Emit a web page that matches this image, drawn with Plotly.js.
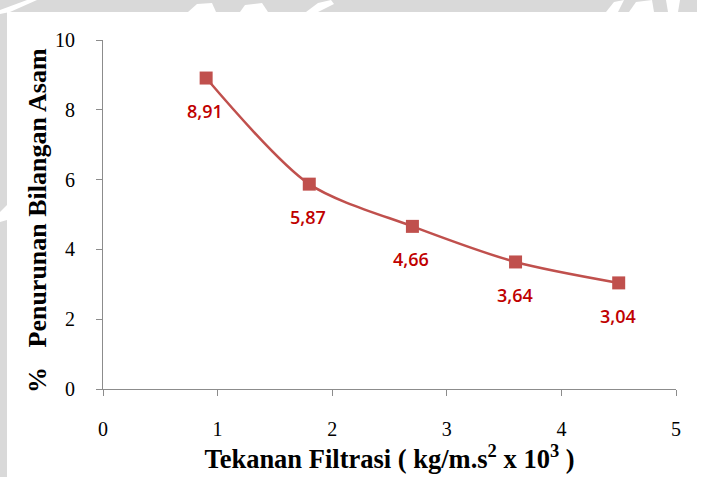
<!DOCTYPE html>
<html>
<head>
<meta charset="utf-8">
<script src="https://cdn.plot.ly/plotly-3.0.1.min.js"></script>
<style>
  html, body { margin: 0; padding: 0; background: #ffffff; overflow: hidden; }
  #chart { width: 706px; height: 477px; display: block; }
</style>
</head>
<body>
<div id="chart"></div>
<script>
// Filtration pressure (kg/m.s^2 x 10^3) and acid value reduction (%)
const tekanan = [0.9, 1.8, 2.7, 3.6, 4.5];
const penurunan = [8.91, 5.87, 4.66, 3.64, 3.04];
const xTicks = [0, 1, 2, 3, 4, 5];
const yTicks = [0, 2, 4, 6, 8, 10];

const seriesColor = '#C0504D';
const labelColor = '#C00000';
const frameGrey = '#d9d9d9';
const serif = '"Liberation Serif", "Times New Roman", serif';

const W = 706, H = 477;
const M = { l: 103, r: 30, t: 40, b: 88 };
const plotW = W - M.l - M.r;
const plotH = H - M.t - M.b;
// page pixel -> paper fraction helpers for the decorative frame
const px = (x) => (x - M.l) / plotW;
const py = (y) => (H - M.b - y) / plotH;

const trace = {
  x: tekanan,
  y: penurunan,
  type: 'scatter',
  mode: 'lines+markers',
  line: { color: seriesColor, width: 2.5, shape: 'spline', smoothing: 0.8 },
  marker: { symbol: 'square', size: 13, color: seriesColor },
  hoverinfo: 'skip',
  showlegend: false
};

// value labels under each point, decimal comma
const labels = tekanan.map((x, i) => ({
  x: x,
  y: penurunan[i],
  xref: 'x',
  yref: 'y',
  text: penurunan[i].toFixed(2).replace('.', ','),
  showarrow: false,
  yshift: -33,
  xshift: -1,
  font: { family: '"Open Sans", Lato, sans-serif', size: 18, color: labelColor, weight: 600 }
}));

// y-axis title placed as a rotated annotation, sitting a little low like the original layout
const yTitle = {
  text: '%   Penurunan Bilangan Asam',
  xref: 'paper', yref: 'paper',
  x: px(37), y: py(221),
  xanchor: 'center', yanchor: 'middle',
  textangle: -90,
  showarrow: false,
  font: { family: serif, size: 26, color: '#000000', weight: 'bold' }
};

function poly(points, color) {
  const d = points.map((p, i) => (i ? 'L' : 'M') + px(p[0]) + ',' + py(p[1])).join(' ') + ' Z';
  return { type: 'path', xref: 'paper', yref: 'paper', layer: 'below', path: d,
           fillcolor: color, line: { width: 0 } };
}

// light grey frame band along the top and left edges, with pale cut-outs
const shapes = [
  poly([[0, 0], [697, 0], [697, 12], [0, 12]], frameGrey),
  poly([[0, 0], [7, 0], [7, 477], [0, 477]], frameGrey),
  poly([[0, 10], [27, 0], [37, 0], [10, 12], [0, 14]], '#ffffff'),
  poly([[0, 212], [7, 205], [7, 220], [0, 222]], '#ffffff'),
  poly([[188, 12], [197, 4], [212, 3], [216, 12]], '#ffffff'),
  poly([[240, 12], [245, 5], [262, 3], [268, 12]], '#ffffff'),
  poly([[306, 12], [318, 3], [331, 0], [334, 4], [318, 12]], '#ffffff'),
  poly([[606, 12], [614, 2], [624, 0], [618, 12]], '#ffffff'),
  poly([[629, 12], [636, 2], [652, 0], [654, 12]], '#ffffff'),
  poly([[666, 0], [680, 0], [678, 12], [668, 12]], '#ffffff')
];

const layout = {
  width: W,
  height: H,
  autosize: false,
  margin: { l: M.l, r: M.r, t: M.t, b: M.b, pad: 0 },
  paper_bgcolor: '#ffffff',
  plot_bgcolor: '#ffffff',
  xaxis: {
    range: [0, 5],
    tickvals: xTicks,
    ticktext: xTicks.map(String),
    showgrid: false,
    zeroline: false,
    showline: true,
    linecolor: '#8c8c8c',
    linewidth: 1,
    ticks: 'outside',
    ticklen: 6,
    tickcolor: '#8c8c8c',
    ticklabelstandoff: 16,
    tickfont: { family: serif, size: 20, color: '#000000' },
    title: {
      text: 'Tekanan Filtrasi ( kg/m.s<sup>2</sup> x 10<sup>3</sup> )',
      font: { family: serif, size: 26.5, color: '#000000', weight: 'bold' },
      standoff: 10
    },
    fixedrange: true
  },
  yaxis: {
    range: [0, 10],
    tickvals: yTicks,
    ticktext: yTicks.map(String),
    showgrid: false,
    zeroline: false,
    showline: true,
    linecolor: '#8c8c8c',
    linewidth: 1,
    ticks: 'outside',
    ticklen: 6,
    tickcolor: '#8c8c8c',
    ticklabelstandoff: 17,
    tickfont: { family: serif, size: 20, color: '#000000' },
    fixedrange: true
  },
  shapes: shapes,
  annotations: labels.concat([yTitle])
};

Plotly.newPlot('chart', [trace], layout, { staticPlot: true, displayModeBar: false });
</script>
</body>
</html>
